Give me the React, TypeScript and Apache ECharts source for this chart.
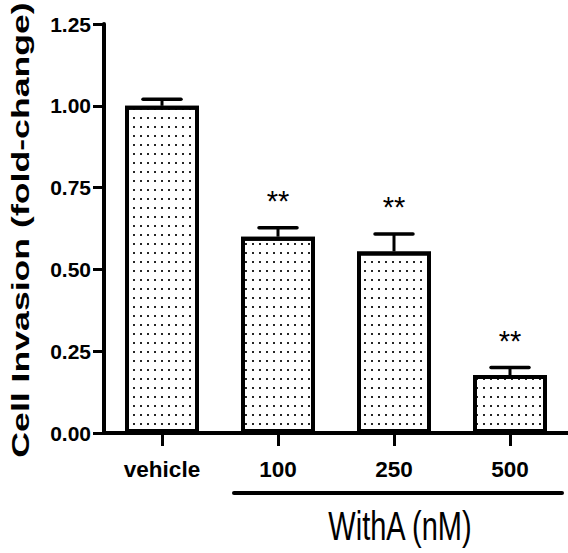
import React, { useEffect, useRef } from "react";
import * as echarts from "echarts";

const categories = ["vehicle", "100", "250", "500"];
const means = [1.0, 0.6, 0.555, 0.177];
const sems = [0.02, 0.027, 0.053, 0.023];
const sigLabels = ["", "**", "**", "**"];
const yTitle = "Cell Invasion (fold-change)";
const groupTitle = "WithA (nM)";

const FONT = "'Liberation Sans', Arial, Helvetica, sans-serif";

export default function App() {
  const ref = useRef<HTMLDivElement>(null);

  useEffect(() => {
    if (!ref.current) return;
    const chart = echarts.init(ref.current, undefined, { renderer: "svg" });
    const option: any = {
      animation: false,
      backgroundColor: "#ffffff",
      grid: { left: 104, top: 24, width: 467, height: 409, containLabel: false },
      xAxis: {
        type: "category",
        data: categories,
        boundaryGap: true,
        axisLine: { show: true, lineStyle: { color: "#000", width: 4 } },
        axisTick: {
          show: true,
          alignWithLabel: true,
          interval: 0,
          length: 13,
          lineStyle: { color: "#000", width: 3 },
        },
        axisLabel: {
          interval: 0,
          margin: 25,
          color: "#000",
          fontSize: 22.5,
          fontWeight: "bold",
          fontFamily: FONT,
        },
        splitLine: { show: false },
      },
      yAxis: {
        type: "value",
        min: 0,
        max: 1.25,
        interval: 0.25,
        axisLine: { show: true, lineStyle: { color: "#000", width: 4 } },
        axisTick: { show: true, length: 11, lineStyle: { color: "#000", width: 3 } },
        axisLabel: {
          margin: 13,
          color: "#000",
          fontSize: 21,
          fontWeight: "bold",
          fontFamily: FONT,
          formatter: (v: number) => v.toFixed(2),
        },
        splitLine: { show: false },
      },
      series: [
        {
          type: "bar",
          data: means,
          barWidth: 74,
          itemStyle: {
            color: "#ffffff",
            borderColor: "#000",
            borderWidth: 4,
            decal: {
              symbol: "rect",
              symbolSize: 1,
              dashArrayX: [1.4, 4.4],
              dashArrayY: [1.4, 6.9],
              rotation: 0,
              color: "rgba(0,0,0,0.85)",
            },
          },
          z: 2,
        },
        {
          type: "custom",
          z: 3,
          data: categories.map((c, i) => [i, means[i], sems[i]]),
          renderItem: (params: any, api: any) => {
            const i = api.value(0);
            const m = api.value(1);
            const e = api.value(2);
            const base = api.coord([i, m]);
            const top = api.coord([i, m + e]);
            const cx = base[0];
            const sig = sigLabels[params.dataIndex] || "";
            return {
              type: "group",
              children: [
                {
                  type: "line",
                  shape: { x1: cx, y1: base[1], x2: cx, y2: top[1] },
                  style: { stroke: "#000", lineWidth: 3 },
                },
                {
                  type: "line",
                  shape: { x1: cx - 19, y1: top[1], x2: cx + 19, y2: top[1] },
                  style: { stroke: "#000", lineWidth: 3.5, lineCap: "round" },
                },
                {
                  type: "text",
                  x: cx,
                  y: top[1] - 27,
                  style: {
                    text: sig,
                    fontSize: 29,
                    fontFamily: FONT,
                    fill: "#000",
                    align: "center",
                    verticalAlign: "middle",
                  },
                },
              ],
            };
          },
        },
      ],
      graphic: [
        {
          type: "text",
          x: 21,
          y: 230,
          rotation: Math.PI / 2,
          scaleX: 1.55,
          style: {
            text: yTitle,
            fontSize: 23,
            fontWeight: "bold",
            fontFamily: FONT,
            fill: "#000",
            align: "center",
            verticalAlign: "middle",
          },
        },
        {
          type: "line",
          shape: { x1: 234, y1: 493, x2: 562, y2: 493 },
          style: { stroke: "#000", lineWidth: 4, lineCap: "round" },
        },
        {
          type: "text",
          x: 400,
          y: 526,
          scaleY: 1.4,
          style: {
            text: groupTitle,
            fontSize: 29,
            fontFamily: FONT,
            fill: "#000",
            align: "center",
            verticalAlign: "middle",
          },
        },
      ],
    };
    chart.setOption(option);
    return () => chart.dispose();
  }, []);

  return (
    <div
      ref={ref}
      style={{ position: "absolute", left: 0, top: 0, width: 568, height: 553 }}
    />
  );
}
